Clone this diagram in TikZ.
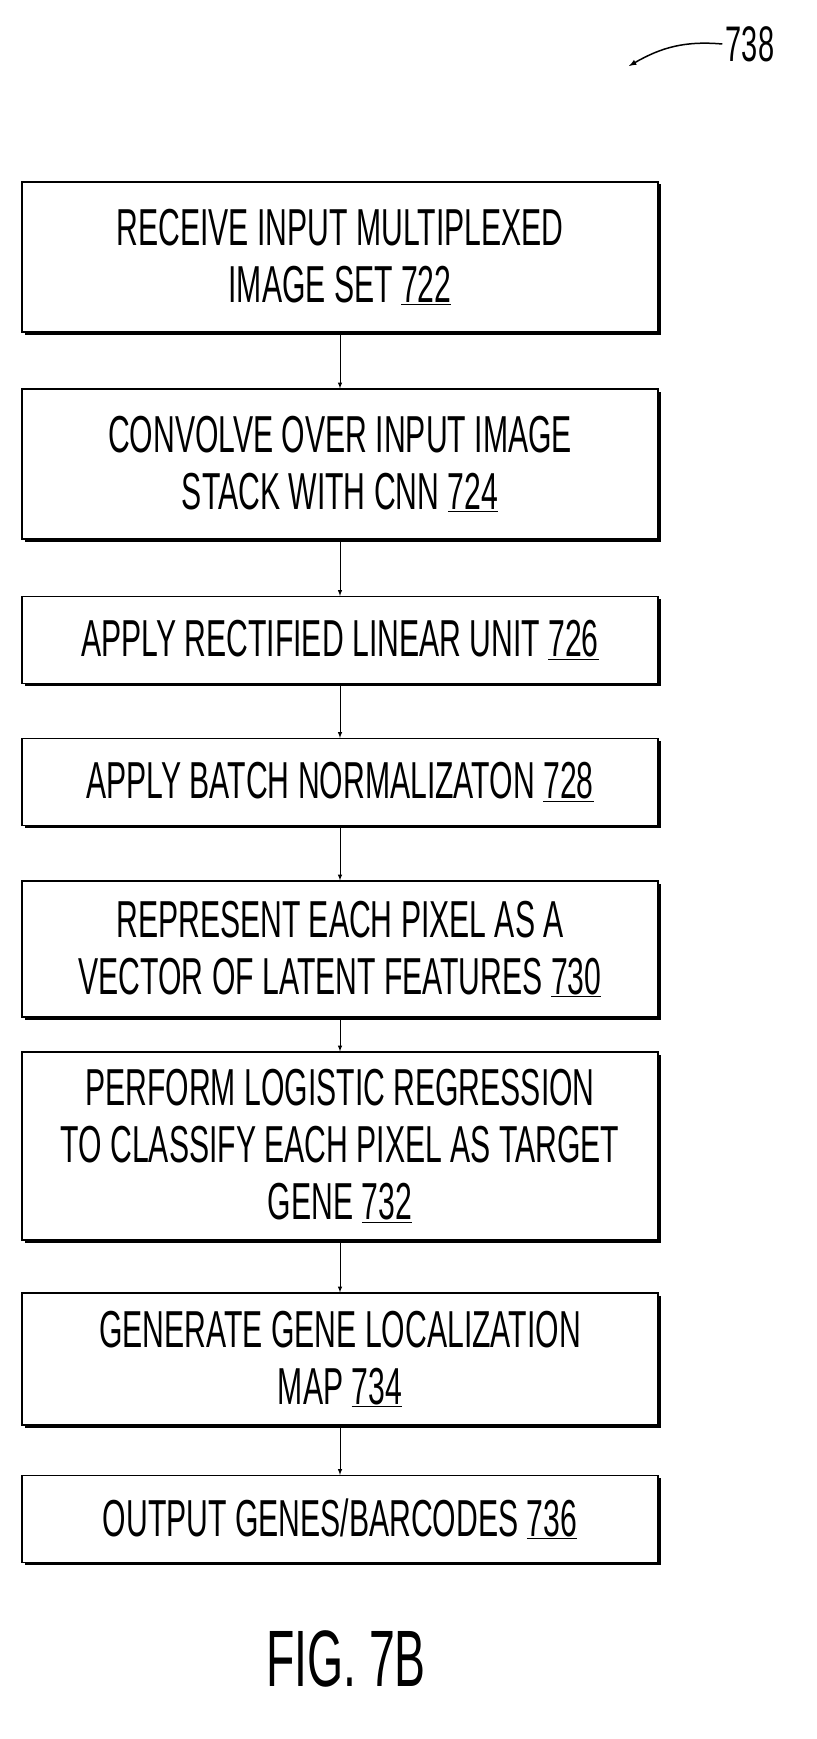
\documentclass[tikz,border=0pt]{standalone}
\usepackage{fontspec}
\setmainfont{Liberation Sans}[FakeStretch=0.58]
\usetikzlibrary{shadows}

\tikzset{
	stepbox/.style={draw, line width=1.2pt, fill=white, align=center, minimum width=636pt,
		drop shadow={shadow xshift=2.5pt, shadow yshift=-2.5pt, fill=black, opacity=1},
		font=\fontsize{52}{57}\selectfont},
	flow/.style={->, line width=1pt, >=latex}
}

\begin{document}
\begin{tikzpicture}[x=1pt,y=-1pt]
	\useasboundingbox (0,0) rectangle (816,1739);
	
	% the steps
	\node[stepbox, minimum height=150pt] (receive) at (340,257) {RECEIVE INPUT MULTIPLEXED\\IMAGE SET \underline{722}};
	\node[stepbox, minimum height=150pt] (convolve) at (340,464) {CONVOLVE OVER INPUT IMAGE\\STACK WITH CNN \underline{724}};
	\node[stepbox, minimum height=87pt] (relu) at (340,640) {APPLY RECTIFIED LINEAR UNIT \underline{726}};
	\node[stepbox, minimum height=87pt] (batch) at (340,782) {APPLY BATCH NORMALIZATON \underline{728}};
	\node[stepbox, minimum height=136pt] (latent) at (340,949) {REPRESENT EACH PIXEL AS A\\VECTOR OF LATENT FEATURES \underline{730}};
	\node[stepbox, minimum height=188pt] (logistic) at (340,1146) {PERFORM LOGISTIC REGRESSION\\TO CLASSIFY EACH PIXEL AS TARGET\\GENE \underline{732}};
	\node[stepbox, minimum height=132pt] (genmap) at (340,1359) {GENERATE GENE LOCALIZATION\\MAP \underline{734}};
	\node[stepbox, minimum height=87pt] (output) at (340,1519) {OUTPUT GENES/BARCODES \underline{736}};
	
	\draw[flow] (receive) -- (convolve);
	\draw[flow] (convolve) -- (relu);
	\draw[flow] (relu) -- (batch);
	\draw[flow] (batch) -- (latent);
	\draw[flow] (latent) -- (logistic);
	\draw[flow] (logistic) -- (genmap);
	\draw[flow] (genmap) -- (output);
	
	% reference numeral
	\node[font=\fontsize{50}{50}\selectfont] (ref) at (750,44) {738};
	\coordinate (reftip) at (629,66);
	\draw[flow, line width=1.5pt] (ref.west) to[out=175, in=30] (reftip);
	
	\node[font=\fontsize{80}{80}\selectfont] (fig) at (346,1659) {FIG. 7B};
\end{tikzpicture}
\end{document}
